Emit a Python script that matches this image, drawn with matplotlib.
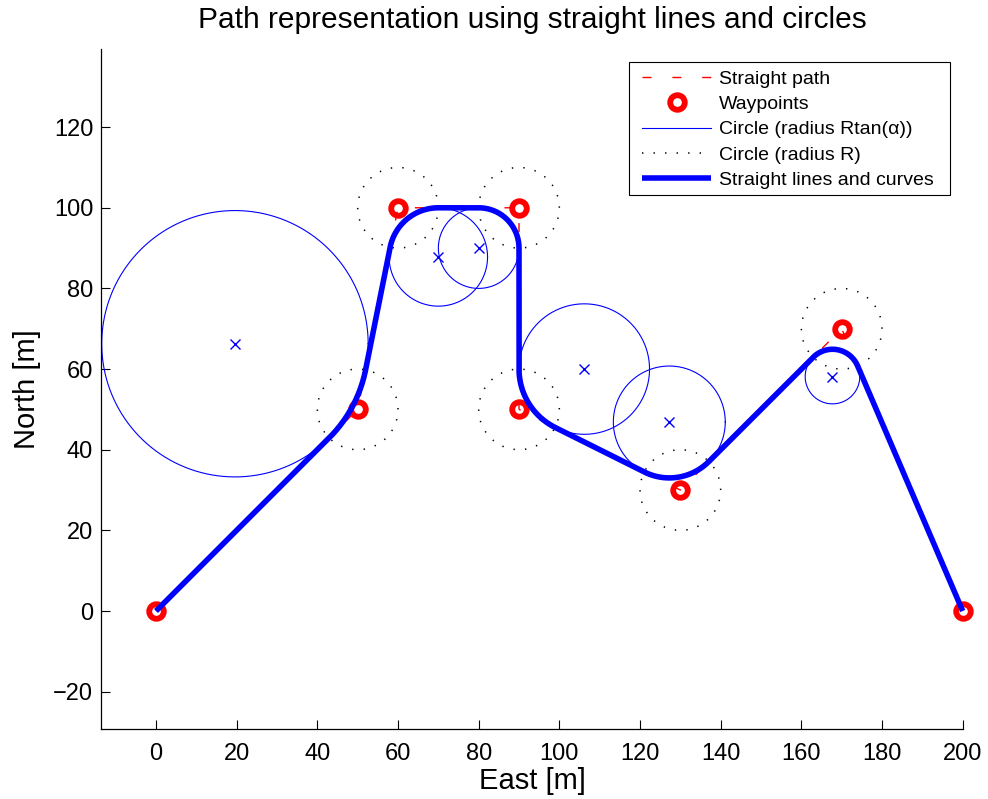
import numpy as np
import matplotlib
matplotlib.use("Agg")
import matplotlib.pyplot as plt
from matplotlib.patches import Rectangle

plt.rcParams['font.family'] = ['Liberation Sans', 'DejaVu Sans']
plt.rcParams['lines.scale_dashes'] = False

# Waypoints (east, north) in metres
east = [0, 50, 60, 90, 90, 130, 170, 200]
north = [0, 50, 100, 100, 50, 30, 70, 0]
R = 10.0  # distance from each waypoint to where the curve leaves/joins the legs

wp = np.column_stack([east, north]).astype(float)


def turn_circle(p0, p1, p2, R):
    # circle tangent to both legs, touching them R metres from the waypoint
    u_in = (p1 - p0) / np.linalg.norm(p1 - p0)
    u_out = (p2 - p1) / np.linalg.norm(p2 - p1)
    turn = np.arccos(np.clip(u_in @ u_out, -1, 1))
    alpha = (np.pi - turn) / 2
    r = R * np.tan(alpha)
    side = np.sign(u_in[0] * u_out[1] - u_in[1] * u_out[0])  # +1 left, -1 right
    normal = side * np.array([-u_in[1], u_in[0]])
    t1 = p1 - R * u_in
    t2 = p1 + R * u_out
    return t1 + r * normal, r, t1, t2, side


# build the smoothed path: straight legs joined by arcs
path = [wp[0]]
centers, radii = [], []
for i in range(1, len(wp) - 1):
    c, r, t1, t2, side = turn_circle(wp[i - 1], wp[i], wp[i + 1], R)
    a1 = np.arctan2(t1[1] - c[1], t1[0] - c[0])
    a2 = np.arctan2(t2[1] - c[1], t2[0] - c[0])
    if side > 0 and a2 < a1:
        a2 += 2 * np.pi
    if side < 0 and a2 > a1:
        a2 -= 2 * np.pi
    a = np.linspace(a1, a2, 80)
    path.extend(np.column_stack([c[0] + r * np.cos(a), c[1] + r * np.sin(a)]))
    centers.append(c)
    radii.append(r)
path.append(wp[-1])
path = np.array(path)
centers = np.array(centers)

fig = plt.figure(figsize=(9.88, 7.99), dpi=100)
ax = fig.add_axes([101.3 / 988, 70 / 799, 861.4 / 988, 679.7 / 799])

ax.plot(east, north, color='r', lw=1, dashes=(6.5, 15), label='Straight path')
ax.plot(east, north, 'o', color='r', mfc='none', ms=10.5, mew=4.2,
        linestyle='none', clip_on=False, label='Waypoints')

th = np.linspace(0, 2 * np.pi, 300)
for k, (c, r) in enumerate(zip(centers, radii)):
    ax.plot(c[0] + r * np.cos(th), c[1] + r * np.sin(th), color='b', lw=0.8,
            label='Circle (radius Rtan(α))' if k == 0 else '_nolegend_')
ax.plot(centers[:, 0], centers[:, 1], 'x', color='b', ms=7.5, mew=1,
        label='_nolegend_')

for k, p in enumerate(wp[1:-1]):
    ax.plot(p[0] + R * np.cos(th), p[1] + R * np.sin(th), color='k', lw=1.1,
            dashes=(1.0, 7.3), label='Circle (radius R)' if k == 0 else '_nolegend_')

ax.plot(path[:, 0], path[:, 1], color='b', lw=4, solid_capstyle='butt',
        clip_on=False, label='Straight lines and curves')

ax.set_xlim(-13.56, 200)
ax.set_ylim(-29.26, 139.3)
ax.set_xticks(np.arange(0, 201, 20))
ax.set_yticks(np.arange(-20, 121, 20))
ax.spines['top'].set_visible(False)
ax.spines['right'].set_visible(False)
for s in ('left', 'bottom'):
    ax.spines[s].set_linewidth(0.9)
ax.tick_params(direction='in', length=6.3, width=0.8, labelsize=17)
ax.tick_params(axis='x', pad=10)
ax.tick_params(axis='y', pad=5.8)

ax.set_title('Path representation using straight lines and circles',
             fontsize=21.5, pad=15.3)
ax.set_xlabel('East [m]', fontsize=21, labelpad=1.5)
ax.set_ylabel('North [m]', fontsize=21, labelpad=9)

leg = ax.legend(loc='upper left', bbox_to_anchor=(642 / 988, 1 - 70 / 799),
                bbox_transform=fig.transFigure, frameon=False, fontsize=14,
                borderpad=0, borderaxespad=0, handlelength=3.55,
                handletextpad=0.41, labelspacing=0.40)
fig.add_artist(Rectangle((629 / 988, 1 - 195 / 799), 321 / 988, 133 / 799,
                         transform=fig.transFigure, fill=False,
                         edgecolor='k', lw=0.8))

fig.savefig('out.png', dpi=100)
